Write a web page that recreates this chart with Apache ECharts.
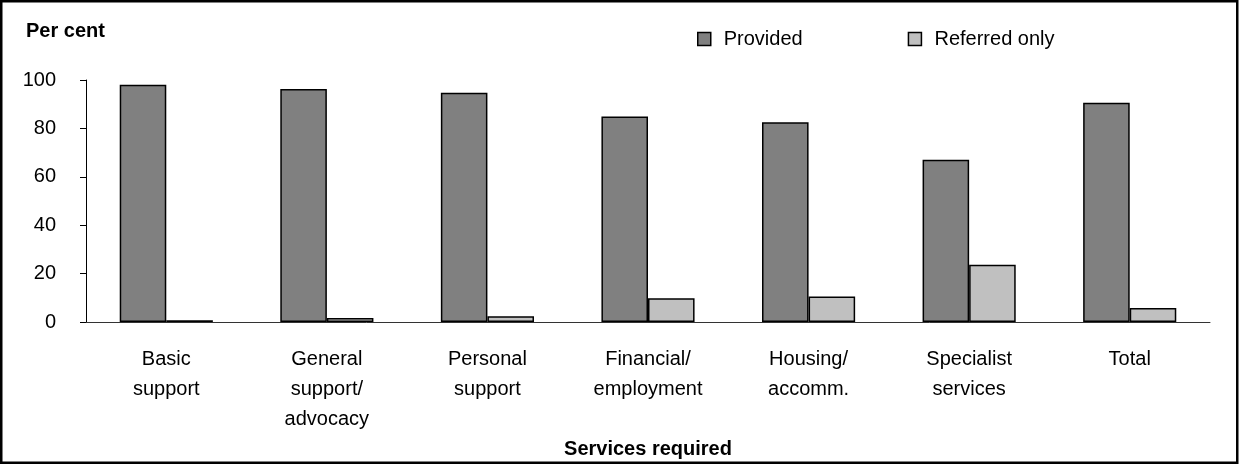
<!DOCTYPE html>
<html>
<head>
<meta charset="utf-8">
<script src="https://cdn.jsdelivr.net/npm/echarts@6/dist/echarts.min.js"></script>
<style>
html,body{margin:0;padding:0;background:#fff;}
#chart{width:1239px;height:464px;}
</style>
</head>
<body>
<div id="chart"></div>
<script>
var categories = ['Basic\nsupport', 'General\nsupport/\nadvocacy', 'Personal\nsupport', 'Financial/\nemployment', 'Housing/\naccomm.', 'Specialist\nservices', 'Total'];
var provided = [98.0, 96.3, 94.7, 84.9, 82.6, 67.1, 90.6];
var referredOnly = [0.8, 1.7, 2.4, 9.9, 10.6, 23.7, 5.8];
var yTicks = { min: 0, max: 100, interval: 20 };

var FONT = "'Liberation Sans', Arial, sans-serif";
var chart = echarts.init(document.getElementById('chart'), null, { renderer: 'canvas' });
chart.setOption({
  animation: false,
  backgroundColor: '#ffffff',
  textStyle: { fontFamily: FONT, color: '#000' },
  title: {
    text: 'Per cent',
    left: 21,
    top: 16,
    textStyle: { fontFamily: FONT, fontSize: 20, fontWeight: 'bold', color: '#000' }
  },
  legend: {
    left: 692,
    top: 24,
    itemWidth: 13,
    itemHeight: 13,
    itemGap: 105,
    icon: 'rect',
    itemStyle: { borderColor: '#000', borderWidth: 1.5 },
    textStyle: { fontFamily: FONT, fontSize: 20, color: '#000', padding: [0, 0, 0, 8] },
    data: ['Provided', 'Referred only']
  },
  grid: { left: 86, right: 29, top: 80, bottom: 139, containLabel: false },
  xAxis: {
    type: 'category',
    data: categories,
    name: 'Services required',
    nameLocation: 'middle',
    nameGap: 116,
    nameTextStyle: { fontFamily: FONT, fontSize: 20, fontWeight: 'bold', color: '#000' },
    axisLine: { lineStyle: { color: '#333', width: 1 } },
    axisTick: { show: false },
    axisLabel: { fontFamily: FONT, fontSize: 20, color: '#000', lineHeight: 30, margin: 22, interval: 0 }
  },
  yAxis: {
    type: 'value',
    min: yTicks.min,
    max: yTicks.max,
    interval: yTicks.interval,
    axisLine: { show: true, lineStyle: { color: '#000', width: 1 } },
    axisTick: { show: true, length: 6, inside: false, lineStyle: { color: '#000' } },
    axisLabel: { fontFamily: FONT, fontSize: 20, color: '#000', margin: 30 },
    splitLine: { show: false }
  },
  series: [
    {
      name: 'Provided',
      type: 'bar',
      data: provided,
      barGap: '0%',
      barCategoryGap: '42%',
      itemStyle: { color: '#808080', borderColor: '#000', borderWidth: 1.5 }
    },
    {
      name: 'Referred only',
      type: 'bar',
      data: referredOnly,
      itemStyle: { color: '#c0c0c0', borderColor: '#000', borderWidth: 1.5 }
    }
  ],
  graphic: [{
    type: 'rect',
    shape: { x: 1.25, y: 1.25, width: 1236, height: 461.5 },
    style: { fill: 'none', stroke: '#000', lineWidth: 2.5 },
    silent: true,
    z: 100
  }]
});
</script>
</body>
</html>
